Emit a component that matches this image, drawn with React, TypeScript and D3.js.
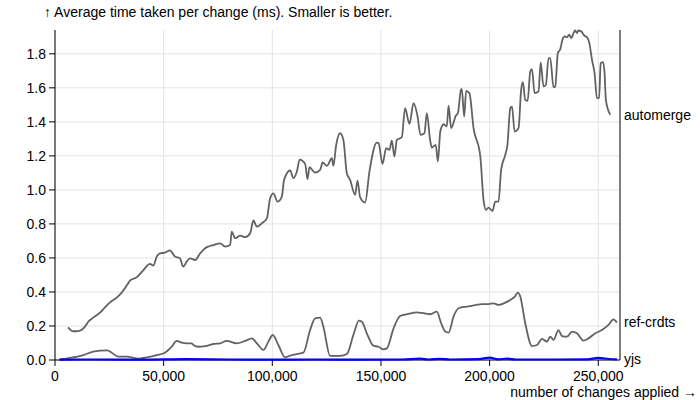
import React from "react";
import * as d3 from "d3";

const automerge: [number, number][] = [[6,0.192],[8.4,0.169],[10.7,0.17],[13.8,0.196],[15.3,0.225],[17.6,0.249],[20.7,0.278],[23,0.31],[25.3,0.339],[28.4,0.367],[30.7,0.396],[33.7,0.451],[34.5,0.467],[37.6,0.486],[40.7,0.529],[43.7,0.565],[45.3,0.555],[46.8,0.608],[48.3,0.627],[50.6,0.631],[52.9,0.645],[55.2,0.608],[57.5,0.598],[59,0.549],[60.6,0.578],[62.1,0.598],[64.5,0.588],[66.8,0.627],[69.1,0.657],[70.6,0.667],[72.9,0.676],[76,0.686],[78.3,0.667],[80.6,0.676],[81.3,0.755],[82.9,0.716],[85.2,0.731],[87.5,0.722],[89.8,0.745],[91.3,0.82],[92.9,0.784],[95.2,0.804],[97.5,0.833],[99,0.951],[100.5,0.98],[102.4,0.931],[104.4,0.961],[105.4,1.059],[108.2,1.114],[109.7,1.069],[111.3,1.108],[112.6,1.178],[115.1,1.153],[116.2,1.063],[117.1,1.133],[119.7,1.102],[122,1.118],[123.2,1.161],[125.1,1.141],[127.4,1.186],[128.1,1.141],[129.4,1.265],[131.2,1.333],[132.7,1.294],[134.3,1.098],[135.8,1.059],[138.1,0.971],[139.2,1.055],[140.4,0.957],[142.7,0.925],[144.7,1.108],[148.1,1.278],[148.9,1.275],[150.7,1.153],[152.4,1.245],[153.9,1.235],[155,1.29],[156.2,1.196],[157.3,1.294],[159.6,1.31],[161.1,1.48],[163.1,1.388],[165,1.51],[166.8,1.435],[168.2,1.324],[170,1.333],[171.1,1.451],[172.6,1.294],[173.4,1.249],[175.2,1.265],[176.2,1.167],[177.3,1.343],[178.8,1.386],[180.3,1.373],[181.1,1.496],[182.3,1.363],[184.5,1.437],[185.4,1.451],[186.8,1.588],[187.2,1.594],[188.3,1.431],[189.2,1.582],[190.7,1.569],[192.6,1.363],[195.7,1.2],[197.2,0.941],[198.3,0.882],[199.5,0.896],[201.3,0.876],[202.6,0.931],[204.1,0.931],[205.3,1.118],[207.2,1.206],[208.2,1.265],[209.5,1.48],[210.3,1.49],[211.5,1.343],[213.3,1.363],[214.5,1.588],[215.3,1.633],[216.4,1.529],[217.5,1.524],[218.7,1.696],[219.5,1.71],[220.7,1.569],[222.5,1.578],[223.5,1.749],[224.8,1.608],[225.9,1.618],[227.1,1.775],[227.9,1.775],[229.4,1.604],[230.2,1.608],[231.4,1.804],[232.5,1.827],[233.5,1.882],[234.5,1.902],[235.6,1.898],[236.6,1.912],[237.6,1.892],[238.6,1.922],[239.4,1.937],[240.2,1.922],[240.9,1.937],[242.2,1.931],[243.7,1.906],[244.8,1.898],[245.9,1.863],[247.1,1.765],[248.3,1.686],[249.4,1.539],[250.4,1.539],[251.1,1.745],[252.2,1.751],[252.9,1.686],[253.5,1.529],[255.5,1.441]];

const refCrdts: [number, number][] = [[2.3,0.003],[6.9,0.012],[13,0.029],[17.6,0.049],[20.7,0.055],[24.1,0.057],[26.1,0.043],[29.1,0.02],[33,0.02],[38.4,0.008],[42.2,0.016],[46.8,0.029],[50.6,0.043],[53.7,0.078],[56,0.112],[58.3,0.102],[60.6,0.098],[62.9,0.098],[63.7,0.088],[66,0.078],[69.1,0.082],[72.9,0.094],[76,0.098],[79,0.112],[83.6,0.098],[87.5,0.112],[90.6,0.127],[92.9,0.098],[95.9,0.059],[98.2,0.108],[100.2,0.147],[102.8,0.088],[105.9,0.016],[109,0.029],[114.3,0.043],[117.4,0.176],[119.7,0.245],[122,0.249],[123.5,0.196],[126.6,0.024],[131.2,0.024],[134.3,0.035],[137.3,0.147],[139.9,0.231],[141.2,0.225],[143.5,0.157],[146.5,0.084],[148.9,0.078],[151.1,0.063],[152.7,0.068],[155.8,0.186],[158.8,0.259],[162.7,0.271],[166.5,0.28],[169.6,0.275],[172.7,0.269],[175.7,0.284],[177.7,0.216],[179.6,0.167],[181.1,0.161],[183.4,0.255],[185.7,0.304],[189.5,0.314],[193.4,0.322],[196.5,0.329],[199.5,0.329],[201.8,0.333],[204.1,0.324],[207.2,0.337],[209.5,0.353],[211.8,0.376],[213,0.396],[214.1,0.373],[216.4,0.216],[219.5,0.082],[221.8,0.088],[224.1,0.124],[226.4,0.108],[227.9,0.137],[229.4,0.118],[231.7,0.176],[233.3,0.141],[235.6,0.137],[237.9,0.167],[240.2,0.157],[243.2,0.114],[245.5,0.127],[248.6,0.157],[251.7,0.176],[254.7,0.206],[257,0.239],[258.6,0.22]];

const yjs: [number, number][] = [[2,0.002],[20,0.003],[40,0.002],[60,0.005],[80,0.003],[100,0.002],[120,0.003],[140,0.002],[160,0.003],[168,0.008],[172,0.003],[177,0.007],[182,0.003],[195,0.005],[200,0.014],[204,0.004],[208,0.008],[212,0.003],[230,0.003],[245,0.004],[250,0.012],[255,0.006],[258.6,0.004]];

const xTicks = [0, 50000, 100000, 150000, 200000, 250000];
const yTicks = [0, 0.2, 0.4, 0.6, 0.8, 1.0, 1.2, 1.4, 1.6, 1.8];
const seriesNames = ["automerge", "ref-crdts", "yjs"];

const W = 700, H = 400;
const ML = 55, MR = 620, MT = 30, MB = 360;

export default function App() {
  const x = d3.scaleLinear().domain([0, 260000]).range([ML, MR]);
  const y = d3.scaleLinear().domain([0, 1.94]).range([MB, MT]);
  const line = d3.line<[number, number]>()
    .x((d) => x(d[0] * 1000))
    .y((d) => y(d[1]))
    .curve(d3.curveMonotoneX);
  const series = [
    { name: seriesNames[0], data: automerge, color: "#626262", w: 1.8 },
    { name: seriesNames[1], data: refCrdts, color: "#626262", w: 1.8 },
    { name: seriesNames[2], data: yjs, color: "#0000ff", w: 2.2 },
  ];
  const font = "'Liberation Sans', Arial, Helvetica, sans-serif";
  const fmt = d3.format(",");
  return (
    <svg width={W} height={H} style={{ position: "absolute", left: 0, top: 0, background: "#fff" }} fontFamily={font} fontSize={14}>
      <rect x={0} y={0} width={W} height={H} fill="#fff" />
      {yTicks.map((t) => (
        <line key={"gy" + t} x1={ML} x2={MR} y1={y(t)} y2={y(t)} stroke="#e3e3e3" strokeWidth={1} />
      ))}
      {xTicks.map((t) => (
        <line key={"gx" + t} x1={x(t)} x2={x(t)} y1={MT} y2={MB} stroke="#e3e3e3" strokeWidth={1} />
      ))}
      <line x1={ML} x2={ML} y1={MT} y2={MB} stroke="#000" />
      <line x1={MR} x2={MR} y1={MT} y2={MB} stroke="#000" />
      <line x1={ML} x2={MR} y1={MB} y2={MB} stroke="#000" />
      {yTicks.map((t) => (
        <g key={"ty" + t}>
          <line x1={ML - 6} x2={ML} y1={y(t)} y2={y(t)} stroke="#000" />
          <text x={ML - 9} y={y(t)} dy="0.35em" textAnchor="end" fill="#000">{t.toFixed(1)}</text>
        </g>
      ))}
      {xTicks.map((t) => (
        <g key={"tx" + t}>
          <line x1={x(t)} x2={x(t)} y1={MB} y2={MB + 6} stroke="#000" />
          <text x={x(t)} y={MB + 21} textAnchor="middle" fill="#000">{fmt(t)}</text>
        </g>
      ))}
      <text x={44} y={17} fill="#000">↑ Average time taken per change (ms). Smaller is better.</text>
      <text x={697} y={397} textAnchor="end" fill="#000">number of changes applied →</text>
      {series.map((s) => (
        <path key={s.name} d={line(s.data) || ""} fill="none" stroke={s.color} strokeWidth={s.w} strokeLinejoin="round" />
      ))}
      {series.map((s) => {
        const last = s.data[s.data.length - 1];
        return (
          <text key={"l" + s.name} x={624} y={y(last[1])} dy="0.35em" fill="#000">{s.name}</text>
        );
      })}
    </svg>
  );
}
